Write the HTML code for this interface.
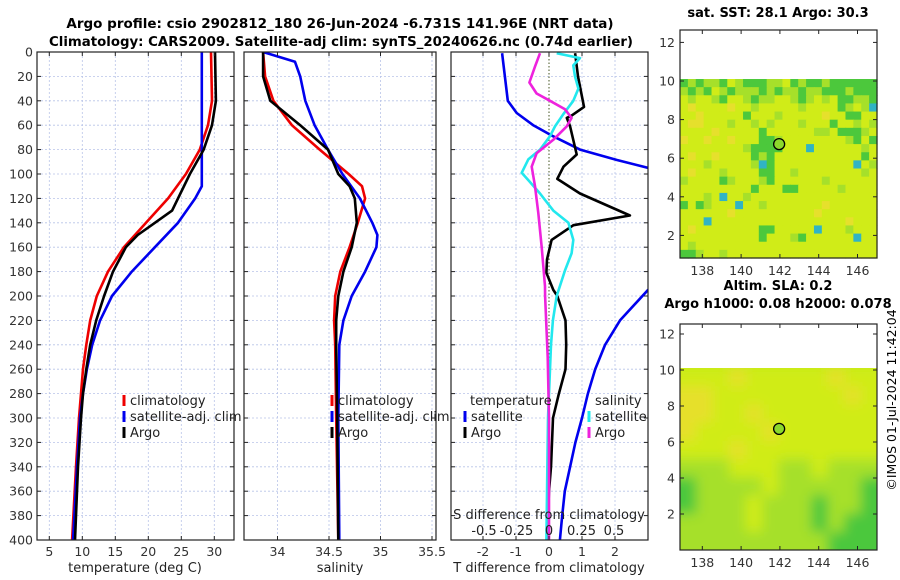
<!DOCTYPE html>
<html><head><meta charset="utf-8">
<style>
html,body{margin:0;padding:0;background:#fff;}
svg{display:block;font-family:"DejaVu Sans","Liberation Sans",sans-serif;}
</style></head>
<body>
<svg id="fig" width="900" height="580" viewBox="0 0 900 580" xmlns="http://www.w3.org/2000/svg">
<defs>
<clipPath id="c1"><rect x="37" y="52" width="197" height="488"/></clipPath>
<clipPath id="c2"><rect x="244" y="52" width="192" height="488"/></clipPath>
<clipPath id="c3"><rect x="451" y="52" width="197" height="488"/></clipPath>
<clipPath id="cm2"><rect x="680" y="368" width="197" height="182"/></clipPath>
<filter id="blur" x="-20%" y="-20%" width="140%" height="140%"><feGaussianBlur stdDeviation="6"/></filter>
</defs>
<text x="340" y="28" font-size="13.5" font-weight="bold" text-anchor="middle">Argo profile: csio 2902812_180 26-Jun-2024 -6.731S 141.96E (NRT data)</text>
<text x="341" y="46" font-size="13.5" font-weight="bold" text-anchor="middle" textLength="584" lengthAdjust="spacingAndGlyphs">Climatology: CARS2009. Satellite-adj clim: synTS_20240626.nc (0.74d earlier)</text>
<g id="g1"></g>
<g id="g2"></g>
<g id="g3"></g>
<g id="m1"></g>
<g id="m2"></g>
<text transform="translate(896,400) rotate(-90)" font-size="12.5" text-anchor="middle">©IMOS 01-Jul-2024 11:42:04</text>
</svg>
<script>
// ---- data ----
const depthTicks = [0,20,40,60,80,100,120,140,160,180,200,220,240,260,280,300,320,340,360,380,400];
const tTicks = [5,10,15,20,25,30];
const sTicks = [34,34.5,35,35.5];
const dTTicks = [-2,-1,0,1,2];
const dSTicks = [-0.5,-0.25,0,0.25,0.5];
const dSTickLabels = ["-0.5","-0.25","0","0.25","0.5"];

const climTDepth = [0,40,60,80,100,120,140,160,180,200,220,240,260,280,300,340,400];
const climTVal = [29.5,29.65,29.05,27.8,25.7,23.0,19.65,16.3,13.9,12.2,11.2,10.6,10.1,9.8,9.5,9.05,8.45];
const satTDepth = [0,100,110,120,140,160,180,200,220,240,260,280,300,340,400];
const satTVal = [28.1,28.1,28.1,27.1,24.5,21.0,17.5,14.5,12.7,11.5,10.7,10.1,9.65,9.2,8.6];
const argoTDepth = [0,40,60,80,100,120,130,140,150,160,180,200,220,240,260,280,300,340,400];
const argoTVal = [30.1,30.25,29.65,28.4,26.3,24.5,23.6,21.0,18.4,16.6,14.65,13.3,12.1,11.2,10.6,10.1,9.8,9.35,8.9];

const climSDepth = [0,20,40,60,80,100,110,120,140,160,180,200,220,240,300,400];
const climSVal = [33.86,33.88,33.96,34.14,34.41,34.69,34.82,34.85,34.78,34.70,34.61,34.56,34.55,34.56,34.57,34.59];
const satSDepth = [0,8,20,40,60,80,100,120,140,150,160,180,200,220,240,300,400];
const satSVal = [33.86,34.17,34.22,34.27,34.36,34.49,34.63,34.80,34.92,34.97,34.96,34.85,34.72,34.64,34.60,34.59,34.60];
const argoSDepth = [0,20,40,60,80,100,110,120,140,160,180,200,220,240,300,400];
const argoSVal = [33.86,33.86,33.93,34.22,34.49,34.59,34.70,34.75,34.77,34.72,34.64,34.59,34.57,34.57,34.58,34.59];

const dTSatDepth = [1,40,50,60,69,80,88.5,95,120,150,180,195,220,240,260,280,300,320,340,360,380,400];
const dTSatVal = [-1.42,-1.25,-0.98,-0.48,0.12,0.94,2.06,3.0,4.5,5.0,4.3,3.0,2.15,1.7,1.4,1.18,1.0,0.8,0.64,0.48,0.4,0.33];
const dTArgoDepth = [1,20,45,52,54,61,84,94,104,116,134,142,154,170,181,195,200,220,240,260,280,300,320,340,360,400];
const dTArgoVal = [0.79,0.88,1.06,0.69,0.54,0.64,0.84,0.44,0.25,0.94,2.45,0.74,0.08,-0.06,-0.08,0.13,0.25,0.5,0.52,0.5,0.3,0.12,0.09,0.06,0,-0.06];
const dSSatDepth = [1,5,11,20,30,40,51,61,69,80,88,99,105,116,130,140,154,165,179,200,220,240,280,300,400];
const dSSatVal = [0.059,0.238,0.187,0.2,0.226,0.187,0.11,0.046,0.008,-0.069,-0.159,-0.21,-0.159,-0.069,0.033,0.149,0.187,0.174,0.123,0.059,0.03,0.015,0,-0.008,-0.02];
const dSArgoDepth = [1,12,25,34,40,47,54,61,72,83,94,110,132,160,192,200,250,300,400];
const dSArgoVal = [-0.069,-0.108,-0.151,-0.095,0.008,0.123,0.174,0.136,0.033,-0.095,-0.133,-0.108,-0.082,-0.056,-0.031,-0.03,-0.01,0,0];

const mapLonTicks = [138,140,142,144,146];
const mapLatTicks = [2,4,6,8,10,12];
const argoLon = [141.96];
const argoLat = [6.73];
const sstRows = [
"glgllgylgggllyglgglgggggg",
"lglgylglllglgllgllggglggg",
"ylyylgyylgllyylglylyggllg",
"yoyyyyoyylyyyyylyyyyglylb",
"yyoyyyyygyyylyyyyyoyyggyy",
"yooyyylyylylyyylyyygyylyl",
"yyyyoyyyyygyyyyyyllygggly",
"oyyoyyoyyygglyyyyyyyylgyg",
"yyyyyyyylggggyyybyyyyyyly",
"yoyyoyyyyglgyyyyyyyyyyygy",
"yyylyyyyylbgyyyyyyyyyybyl",
"yoyyylyyyyggyylyyyyyyyyly",
"lyyyyglyyylgyyyyyylyyyyyy",
"yyyyyyyyygyyyggyyyyylyyyy",
"yyylybyylyyyyyyyyyyyyyyyy",
"gyglyyybyylyyyyyyyoyyyyyy",
"yyyyyyoyyyyyyyyyyoyyyyyyy",
"yyybyyyyyyyyyyyyyyyyyoyyy",
"yoyyyyyyyyggyyyyybyyylyyy",
"yyyyyyyyyygyyylgyyyyyybyy",
"ylyyyyyyyyyyyyyyyyyyyyyyy",
"gglyylyyyyyyyyyyyyyyyyyyy"];
const slaRows = [
"yyyoyyyyyoyy",
"ooyyyyyyyyoy",
"ooyyoyyyyyyy",
"oyyyyoyyyyyy",
"yyyoyyyyyyyy",
"lllyyyllylll",
"gllllylllllg",
"glllylllgllg",
"llllylllglgg",
"lllllllllggg"];
// ---- helpers ----
const NS = "http://www.w3.org/2000/svg";
function mk(parent, tag, attrs){const e=document.createElementNS(NS,tag);for(const k in attrs)e.setAttribute(k,attrs[k]);parent.appendChild(e);return e;}
const yD = d => 52 + d*1.22;
const xT = t => 49.3 + (t-5)*6.6;
const xS = s => 329 + (s-34.5)*103;
const xDT = v => 549 + v*33;
const xDS = v => 549 + v*130;

function frame(g, x0, x1){
  depthTicks.forEach(d=>{
    const l=mk(g,'line',{x1:x0,x2:x1,y1:yD(d),y2:yD(d),stroke:'#b8c4e8','stroke-width':0.8,'stroke-dasharray':'2,2'});
    
    
  });
}
function vgrid(g, xs, y0, y1){
  xs.forEach(x=>{
    const l=mk(g,'line',{x1:x,x2:x,y1:y0,y2:y1,stroke:'#b8c4e8','stroke-width':0.8,'stroke-dasharray':'2,2'});
    
    
  });
}
function box(g,x,y,w,h){
  const r=mk(g,'rect',{x:x,y:y,width:w,height:h,fill:'none',stroke:'#222','stroke-width':1.2});
  
  
}
function yticks(g,x0,x1,labels){
  depthTicks.forEach(d=>{
    mk(g,'line',{x1:x0,x2:x0+4,y1:yD(d),y2:yD(d),stroke:'#222'});
    mk(g,'line',{x1:x1,x2:x1-4,y1:yD(d),y2:yD(d),stroke:'#222'});
    if(labels){const t=mk(g,'text',{x:x0-4,y:yD(d)+4.5,'font-size':12.5,'text-anchor':'end',fill:'#333'});t.textContent=d;
      
      }
  });
}
function xticks(g,vals,fx,labels){
  vals.forEach((v,i)=>{
    const x=fx(v);
    mk(g,'line',{x1:x,x2:x,y1:540,y2:536,stroke:'#222'});
    mk(g,'line',{x1:x,x2:x,y1:52,y2:56,stroke:'#222'});
    const t=mk(g,'text',{x:x,y:556,'font-size':12.5,'text-anchor':'middle',fill:'#333'});t.textContent=labels?labels[i]:v;
    
    
  });
}
function series(g,depths,vals,fx,color,name,clip){
  const pts=depths.map((d,i)=>fx(vals[i]).toFixed(1)+','+yD(d).toFixed(1)).join(' ');
  const p=mk(g,'polyline',{points:pts,fill:'none',stroke:color,'stroke-width':2.6,'stroke-linejoin':'round','clip-path':'url(#'+clip+')'});
  
  
}
function legend(g,x,y,color,label,name){
  mk(g,'line',{x1:x,x2:x,y1:y-10,y2:y+1,stroke:color,'stroke-width':3});
  const t=mk(g,'text',{x:x+6,y:y,'font-size':13,fill:'#222'});t.textContent=label;
  
  
}
function label(g,x,y,txt,name,anchor){
  const t=mk(g,'text',{x:x,y:y,'font-size':13,'text-anchor':anchor||'middle',fill:'#222'});t.textContent=txt;
  
  
}
// panel 1
const g1=document.getElementById('g1');
frame(g1,37,234);vgrid(g1,tTicks.map(xT),52,540);
series(g1,climTDepth,climTVal,xT,'#ee0000','climatology-temperature-line','c1');
series(g1,satTDepth,satTVal,xT,'#0000ee','satellite-temperature-line','c1');
series(g1,argoTDepth,argoTVal,xT,'#000000','argo-temperature-line','c1');
box(g1,37,52,197,488);yticks(g1,37,234,true);xticks(g1,tTicks,xT);
label(g1,135,572,'temperature (deg C)','x-axis-title-temperature');
legend(g1,124,405,'#ee0000','climatology','legend-climatology');
legend(g1,124,421,'#0000ee','satellite-adj. clim','legend-satellite');
legend(g1,124,437,'#000000','Argo','legend-argo');
// panel 2
const g2=document.getElementById('g2');
frame(g2,244,436);vgrid(g2,sTicks.map(xS),52,540);
series(g2,climSDepth,climSVal,xS,'#ee0000','climatology-salinity-line','c2');
series(g2,satSDepth,satSVal,xS,'#0000ee','satellite-salinity-line','c2');
series(g2,argoSDepth,argoSVal,xS,'#000000','argo-salinity-line','c2');
box(g2,244,52,192,488);yticks(g2,244,436,false);xticks(g2,sTicks,xS);
label(g2,340,572,'salinity','x-axis-title-salinity');
legend(g2,332,405,'#ee0000','climatology','legend-climatology');
legend(g2,332,421,'#0000ee','satellite-adj. clim','legend-satellite');
legend(g2,332,437,'#000000','Argo','legend-argo');
// panel 3
const g3=document.getElementById('g3');
frame(g3,451,648);vgrid(g3,dTTicks.filter(v=>v!==0).map(xDT),52,540);
mk(g3,'line',{x1:549,x2:549,y1:52,y2:540,stroke:'#445522','stroke-width':1,'stroke-dasharray':'1.5,2'});
series(g3,dTSatDepth,dTSatVal,xDT,'#0000ee','satellite-temperature-difference-line','c3');
series(g3,dTArgoDepth,dTArgoVal,xDT,'#000000','argo-temperature-difference-line','c3');
series(g3,dSSatDepth,dSSatVal,xDS,'#22e8ee','satellite-salinity-difference-line','c3');
series(g3,dSArgoDepth,dSArgoVal,xDS,'#ee22dd','argo-salinity-difference-line','c3');
box(g3,451,52,197,488);yticks(g3,451,648,false);xticks(g3,dTTicks,xDT);
label(g3,549,572,'T difference from climatology','x-axis-title-t-difference');
label(g3,549,519,'S difference from climatology','s-difference-title');
dSTicks.forEach((v,i)=>{label(g3,xDS(v),535,dSTickLabels[i],'s-difference-tick-label');});
label(g3,470,405,'temperature','legend-temperature-header','start');
legend(g3,465,421,'#0000ee','satellite','legend-temperature-satellite');
legend(g3,465,437,'#000000','Argo','legend-temperature-argo');
label(g3,595,405,'salinity','legend-salinity-header','start');
legend(g3,589,421,'#22e8ee','satellite','legend-salinity-satellite');
legend(g3,589,437,'#ee22dd','Argo','legend-salinity-argo');
// maps
const colors={o:'#e6e02c',y:'#d0ec18',l:'#a6e02a',g:'#4cc83c',b:'#30b4c4'};
function drawMap(gid,top,bottom,rows,latTop,lat10y,pxPerLat,title1,title2,blur){
  const g=document.getElementById(gid);
  const x0=680,w=197;
  const lonX=l=>680+(l-136.85)*19.4;
  const latY=l=>lat10y-(l-10)*pxPerLat;
  const gc=mk(g,'g',blur?{'clip-path':'url(#cm2)'}:{});
  if(blur){mk(gc,'rect',{x:x0,y:latTop,width:w,height:bottom-latTop,fill:'#c4ea1c'});}
  const inner=mk(gc,'g',blur?{filter:'url(#blur)'}:{});
  const ncol=rows[0].length,nrow=rows.length;
  const cw=w/ncol,ch=(bottom-latTop)/nrow;
  rows.forEach((r,ri)=>{[...r].forEach((c,ci)=>{
    let x=x0+ci*cw,y=latTop+ri*ch,ww=cw+0.6,hh=ch+0.6;
    if(blur){ if(ci===0){x-=15;ww+=15;} if(ci===ncol-1){ww+=15;} if(ri===nrow-1){hh+=15;} }
    const e=mk(inner,'rect',{x:x.toFixed(2),y:y.toFixed(2),width:ww.toFixed(2),height:hh.toFixed(2),fill:colors[c]});
    
    
  });});
  argoLon.forEach((lo,i)=>{
    const c=mk(g,'circle',{cx:lonX(lo),cy:latY(argoLat[i]),r:5.5,fill:'#8cd82c',stroke:'#000','stroke-width':1.3});
    
    
  });
  box(g,680,top,197,bottom-top);
  mapLonTicks.forEach(l=>{const x=lonX(l);mk(g,'line',{x1:x,x2:x,y1:bottom,y2:bottom-4,stroke:'#222'});mk(g,'line',{x1:x,x2:x,y1:top,y2:top+4,stroke:'#222'});
    const t=mk(g,'text',{x:x,y:bottom+17,'font-size':12.5,'text-anchor':'middle',fill:'#333'});t.textContent=l;
    
    });
  mapLatTicks.forEach(l=>{const y=latY(l);mk(g,'line',{x1:680,x2:684,y1:y,y2:y,stroke:'#222'});mk(g,'line',{x1:877,x2:873,y1:y,y2:y,stroke:'#222'});
    const t=mk(g,'text',{x:675,y:y+4.5,'font-size':12.5,'text-anchor':'end',fill:'#333'});t.textContent=l;
    
    });
  if(title1){const t=mk(g,'text',{x:778,y:title2?top-34:top-13,'font-size':13,'font-weight':'bold','text-anchor':'middle'});t.textContent=title1;
    
    }
  if(title2){const t=mk(g,'text',{x:778,y:top-16,'font-size':13,'font-weight':'bold','text-anchor':'middle'});t.textContent=title2;
    
    }
}
drawMap('m1',30,258,sstRows,79,81,19.3,'sat. SST: 28.1 Argo: 30.3',null,false);
drawMap('m2',324,550,slaRows,368,370,18,'Altim. SLA: 0.2','Argo h1000: 0.08 h2000: 0.078',true);
</script>
</body></html>
